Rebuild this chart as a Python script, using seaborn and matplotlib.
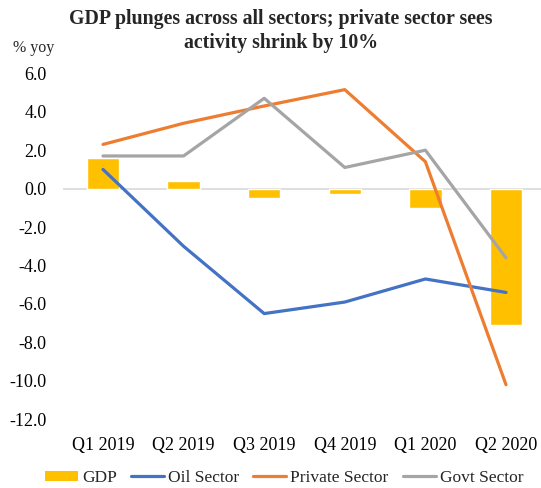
import numpy as np
import pandas as pd
import matplotlib
matplotlib.use("Agg")
import matplotlib.pyplot as plt
import seaborn as sns
from matplotlib.patches import Patch
from matplotlib.lines import Line2D

# data (% yoy)
quarters = ["Q1 2019", "Q2 2019", "Q3 2019", "Q4 2019", "Q1 2020", "Q2 2020"]
gdp = [1.6, 0.4, -0.5, -0.3, -1.0, -7.1]
oil_sector = [1.0, -3.0, -6.5, -5.9, -4.7, -5.4]
private_sector = [2.3, 3.4, 4.3, 5.15, 1.4, -10.2]
govt_sector = [1.7, 1.7, 4.7, 1.1, 2.0, -3.6]

series_names = ["Oil Sector", "Private Sector", "Govt Sector"]
colors = {"GDP": "#FFC000", "Oil Sector": "#4472C4",
          "Private Sector": "#ED7D31", "Govt Sector": "#A5A5A5"}

sns.set_style("white")
plt.rcParams["font.family"] = ["Liberation Serif", "DejaVu Serif"]

bar_df = pd.DataFrame({"quarter": quarters, "value": gdp})
line_df = pd.DataFrame({
    "pos": np.tile(np.arange(len(quarters)), 3),
    "value": oil_sector + private_sector + govt_sector,
    "series": np.repeat(series_names, len(quarters)),
})

fig = plt.figure(figsize=(5.41, 4.88), dpi=100)
# axes spans a bit past the right edge, like the cropped original
ax = fig.add_axes([62.7 / 541, 1 - 419.3 / 488, 483.6 / 541, 346 / 488])

ax.axhline(0, color="#D9D9D9", lw=1.2, zorder=1)
sns.barplot(data=bar_df, x="quarter", y="value", color=colors["GDP"],
            width=0.4, saturation=1, ax=ax, zorder=2)
sns.lineplot(data=line_df, x="pos", y="value", hue="series",
             palette=colors, hue_order=series_names, linewidth=2.3,
             sort=False, legend=False, ax=ax, zorder=3,
             solid_capstyle="round", solid_joinstyle="round")

ax.set_xlim(-0.5, len(quarters) - 0.5)
ax.set_ylim(-12, 6)
ax.set_yticks(np.arange(-12, 6.1, 2))
ax.set_yticklabels([f"{v:.1f}" for v in np.arange(-12, 6.1, 2)])
ax.set_xticks(range(len(quarters)))
ax.set_xticklabels(quarters)
ax.tick_params(axis="y", length=0, pad=11.5, labelsize=13, colors="black")
ax.tick_params(axis="x", length=0, pad=13, labelsize=13, colors="black")
ax.set_xlabel("")
ax.set_ylabel("")
sns.despine(ax=ax, left=True, bottom=True)

# title and unit label
fig.text(281 / 541, 1 - 19 / 488, "GDP plunges across all sectors; private sector sees",
         ha="center", va="center", fontsize=14.3, fontweight="bold")
fig.text(281 / 541, 1 - 43 / 488, "activity shrink by 10%",
         ha="center", va="center", fontsize=14.3, fontweight="bold")
fig.text(13 / 541, 1 - 48 / 488, "% yoy", ha="left", va="center", fontsize=11.5)

handles = [Patch(facecolor=colors["GDP"], edgecolor="none")]
handles += [Line2D([], [], color=colors[s], lw=2.3) for s in series_names]
fig.legend(handles, ["GDP"] + series_names, loc="center", ncol=4,
           bbox_to_anchor=(284 / 541, 1 - 478 / 488), frameon=False,
           fontsize=12.5, handlelength=1.9, handleheight=0.5,
           handletextpad=0.25, columnspacing=0.8, borderaxespad=0)

fig.savefig("out.png", dpi=100)
